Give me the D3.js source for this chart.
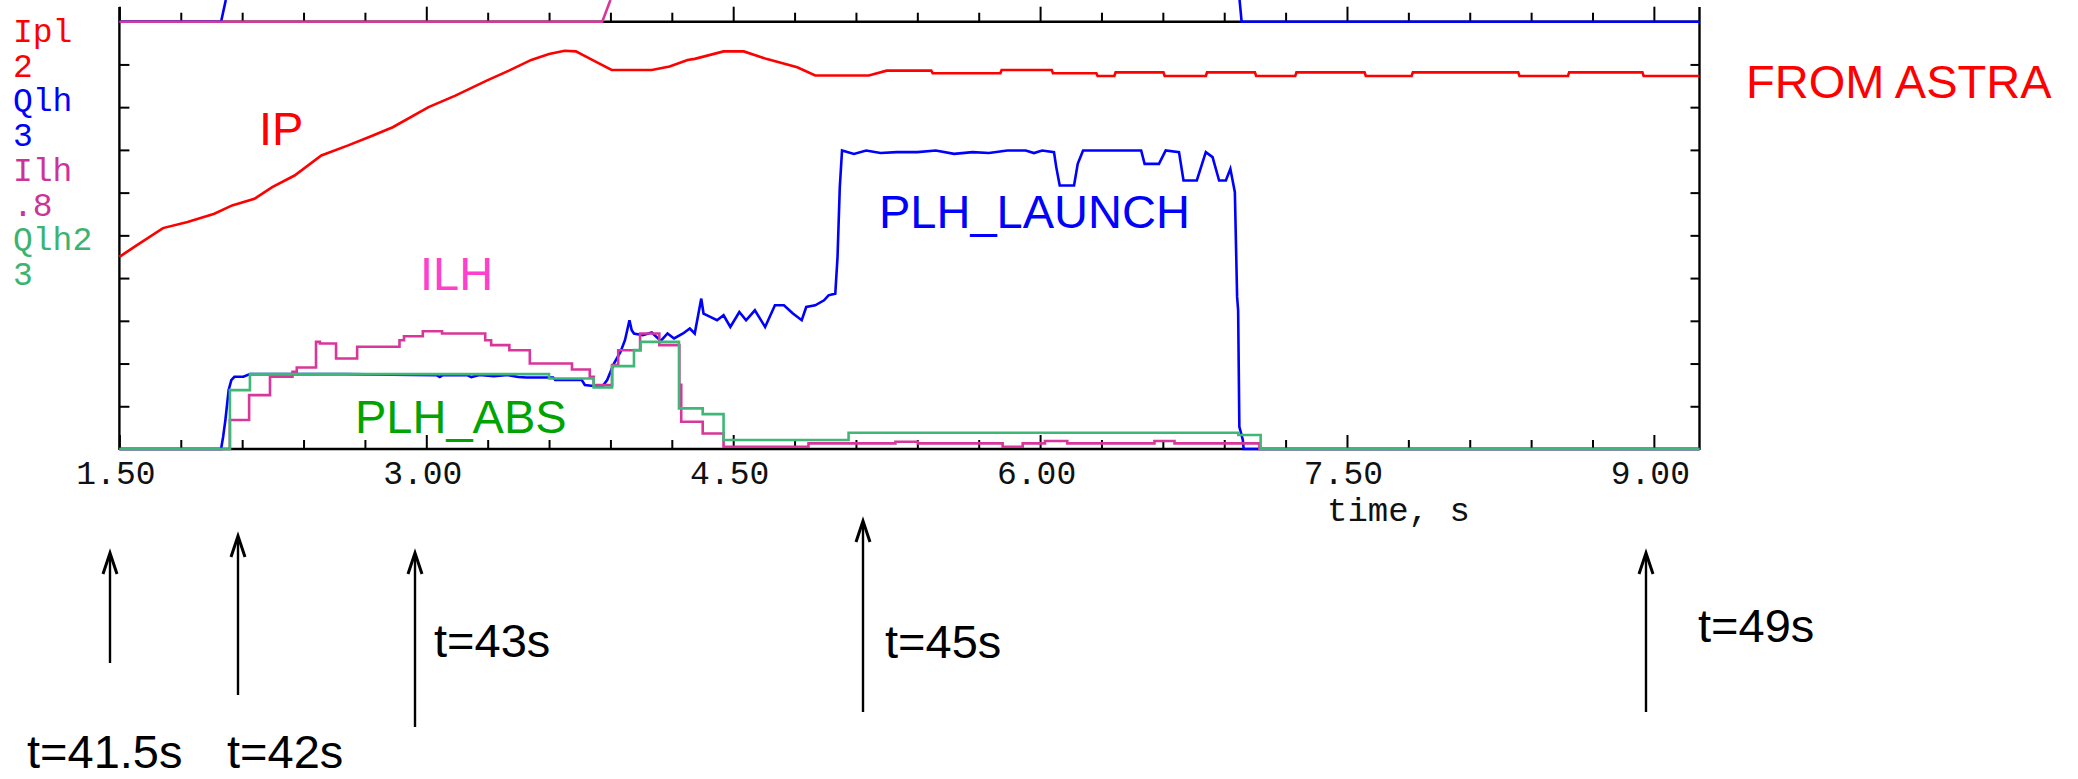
<!DOCTYPE html>
<html>
<head>
<meta charset="utf-8">
<script src="https://cdn.jsdelivr.net/npm/d3@7"></script>
<style>
  html, body { margin: 0; padding: 0; background: #ffffff; }
  svg { display: block; }
</style>
</head>
<body>
<svg id="chart" width="2078" height="779"></svg>
<script>
// ---- Data: [time (s), value] for each trace ----
const seriesNames = ["Ipl", "Qlh", "Ilh", "Qlh2"];
const seriesScaleLabels = ["2", "3", ".8", "3"];
const seriesFullScale = [2, 3, 0.8, 3];

// Plasma current
const iplData = [
  [1.5,0.899],[1.571,0.945],[1.713,1.034],[1.833,1.062],[1.964,1.101],[2.051,1.140],
  [2.160,1.171],[2.247,1.226],[2.356,1.280],[2.487,1.374],[2.618,1.421],[2.727,1.463],
  [2.836,1.506],[3.011,1.600],[3.142,1.654],[3.295,1.724],[3.404,1.771],[3.513,1.821],
  [3.600,1.849],[3.676,1.864],[3.731,1.861],[3.818,1.818],[3.906,1.774],[4.102,1.774],
  [4.189,1.790],[4.277,1.821],[4.312,1.826],[4.453,1.861],[4.552,1.861],[4.661,1.826],
  [4.813,1.787],[4.901,1.748],[5.163,1.748],[5.250,1.771],[5.468,1.771],[5.475,1.759],
  [5.806,1.759],[5.812,1.774],[6.057,1.774],[6.063,1.759],[6.275,1.759],[6.281,1.746],
  [6.363,1.746],[6.369,1.763],[6.603,1.763],[6.609,1.746],[6.810,1.746],[6.816,1.763],
  [7.050,1.763],[7.056,1.746],[7.247,1.746],[7.253,1.763],[7.586,1.763],[7.592,1.746],
  [7.816,1.746],[7.822,1.763],[8.337,1.763],[8.343,1.746],[8.580,1.746],[8.586,1.763],
  [8.944,1.763],[8.950,1.746],[9.223,1.746]
];

// LH launched power
const qlhData = [
  [1.5,0],[1.997,0],[2.007,0.086],[2.018,0.203],[2.034,0.414],[2.047,0.484],[2.062,0.507],
  [2.106,0.507],[2.138,0.526],[2.600,0.526],[3.050,0.519],[3.066,0.505],[3.080,0.519],
  [3.200,0.519],[3.220,0.505],[3.260,0.519],[3.330,0.512],[3.400,0.519],[3.450,0.505],
  [3.490,0.502],[3.620,0.502],[3.630,0.484],[3.760,0.484],[3.775,0.449],[3.818,0.442],
  [3.862,0.442],[3.884,0.484],[3.917,0.600],[3.949,0.682],[3.971,0.764],[3.993,0.904],
  [4.004,0.834],[4.015,0.811],[4.058,0.799],[4.102,0.818],[4.146,0.759],[4.179,0.811],
  [4.211,0.776],[4.255,0.811],[4.288,0.846],[4.312,0.811],[4.344,1.056],[4.355,0.951],
  [4.388,0.927],[4.421,0.904],[4.453,0.939],[4.486,0.857],[4.530,0.962],[4.563,0.904],
  [4.606,0.974],[4.656,0.857],[4.704,1.009],[4.748,1.009],[4.792,0.951],[4.835,0.904],
  [4.857,0.997],[4.901,1.009],[4.944,1.044],[4.966,1.079],[4.999,1.091],[5.010,1.348],
  [5.021,1.838],[5.032,2.096],[5.090,2.072],[5.150,2.096],[5.220,2.078],[5.300,2.084],
  [5.400,2.084],[5.490,2.096],[5.580,2.072],[5.670,2.084],[5.750,2.078],[5.840,2.096],
  [5.930,2.096],[5.970,2.078],[6.010,2.096],[6.068,2.084],[6.079,1.979],[6.096,1.850],
  [6.166,1.850],[6.184,2.002],[6.210,2.096],[6.494,2.096],[6.511,2.002],[6.581,2.002],
  [6.614,2.096],[6.679,2.084],[6.701,1.885],[6.766,1.885],[6.810,2.084],[6.843,2.049],
  [6.875,1.885],[6.908,1.885],[6.930,1.967],[6.941,1.885],[6.952,1.803],[6.963,1.068],
  [6.968,0.974],[6.974,0.156],[6.991,0.063],[6.995,0],[9.223,0]
];

// LH current (held until the next sample)
const ilhData = [
  [1.5,0],[2.040,0.0542],[2.134,0.1009],[2.236,0.1352],[2.346,0.1445],[2.367,0.1526],
  [2.461,0.2006],[2.480,0.1975],[2.559,0.1695],[2.662,0.1913],[2.869,0.2037],[2.891,0.2112],
  [2.983,0.2205],[3.077,0.2162],[3.288,0.2037],[3.317,0.1944],[3.406,0.1850],[3.506,0.1601],
  [3.712,0.1489],[3.799,0.1352],[3.818,0.1196],[3.908,0.1570],[3.938,0.1850],[4.045,0.2162],
  [4.139,0.1944],[4.237,0.1200],[4.246,0.0510],[4.351,0.0290],[4.453,0.0043],[4.868,0.0106],
  [5.293,0.0137],[5.403,0.0106],[5.817,0.0043],[5.915,0.0106],[6.024,0.0150],[6.133,0.0106],
  [6.559,0.0150],[6.657,0.0106],[7.072,0],[9.223,0]
];

// LH absorbed power (held until the next sample)
const qlh2Data = [
  [1.5,0],[2.040,0.4135],[2.138,0.5257],[3.600,0.4953],[3.818,0.4322],[3.908,0.5817],
  [4.015,0.6939],[4.048,0.7523],[4.235,0.285],[4.351,0.245],[4.453,0.063],[5.064,0.114],
  [6.969,0.098],[7.078,0],[9.223,0]
];

// Floor of the panel above, seen along the top edge (1 = off the top)
const upperQlhA = [[1.5,0],[1.997,0],[2.02,1]];
const upperQlhB = [[6.975,1],[6.985,0],[9.223,0]];
const upperIlh = [[1.5,0],[3.86,0],[3.90,1]];

// Axis ticks
const xMajorTicks = [1.5, 3.0, 4.5, 6.0, 7.5, 9.0];
const xMinorTicks = [1.8, 2.1, 2.4, 2.7, 3.3, 3.6, 3.9, 4.2, 4.8, 5.1, 5.4, 5.7,
                     6.3, 6.6, 6.9, 7.2, 7.8, 8.1, 8.4, 8.7];
const yDivisionTicks = [1, 2, 3, 4, 5, 6, 7, 8, 9];
const xDomain = [1.5, 9.223];
const xAxisTitle = "time, s";

// Annotations
const curveNotes = ["IP", "ILH", "PLH_ABS", "PLH_LAUNCH", "FROM ASTRA"];
const timeNotes = ["t=41.5s", "t=42s", "t=43s", "t=45s", "t=49s"];

// ---- Layout ----
const plot = { left: 119.4, right: 1699.5, top: 21.7, bottom: 449, frameTop: 7 };
const colors = {
  Ipl: "#ff0000", Qlh: "#0000ff", Ilh: "#d8369a", Qlh2: "#3fb877",
  IlhLabel: "#cc3399", Qlh2Label: "#3cb371", ilhNote: "#ff40cc", absNote: "#00a400"
};
const monoFont = "'Liberation Mono', 'DejaVu Sans Mono', monospace";
const sansFont = "'Liberation Sans', Arial, sans-serif";

const svg = d3.select("#chart");
svg.append("rect").attr("width", 2078).attr("height", 779).attr("fill", "#ffffff");

const x = d3.scaleLinear().domain(xDomain).range([plot.left, plot.right]);
const yDiv = d3.scaleLinear().domain([0, 10]).range([plot.bottom, plot.top]);
const yTop = d3.scaleLinear().domain([0, 1]).range([plot.top, 0]);
const yScales = {};
seriesNames.forEach((n, i) => {
  yScales[n] = d3.scaleLinear().domain([0, seriesFullScale[i]]).range([plot.bottom, plot.top]);
});

// ---- Axes ----
function styleAxis(g) {
  g.selectAll("path.domain").remove();
  g.selectAll(".tick line").attr("stroke", "#000").attr("stroke-width", 2);
  g.selectAll(".tick text").attr("fill", "#111").attr("font-family", monoFont).attr("font-size", 33);
}

// bottom: minor and major ticks pointing up into the plot
svg.append("g").attr("transform", `translate(0,${plot.bottom})`)
  .call(d3.axisBottom(x).tickValues(xMinorTicks).tickSizeInner(-9).tickSizeOuter(0).tickFormat(""))
  .call(styleAxis);
svg.append("g").attr("transform", `translate(0,${plot.bottom})`)
  .call(d3.axisBottom(x).tickValues(xMajorTicks).tickSizeInner(-14).tickSizeOuter(0)
        .tickPadding(12).tickFormat(d3.format(".2f")))
  .call(styleAxis)
  .call(g => g.selectAll(".tick text").attr("dx", -4));

// top: ticks pointing up
svg.append("g").attr("transform", `translate(0,${plot.top})`)
  .call(d3.axisTop(x).tickValues(xMinorTicks).tickSizeInner(9).tickSizeOuter(0).tickFormat(""))
  .call(styleAxis);
svg.append("g").attr("transform", `translate(0,${plot.top})`)
  .call(d3.axisTop(x).tickValues(xMajorTicks).tickSizeInner(15).tickSizeOuter(0).tickFormat(""))
  .call(styleAxis);

// left and right: division ticks pointing inward
svg.append("g").attr("transform", `translate(${plot.left},0)`)
  .call(d3.axisLeft(yDiv).tickValues(yDivisionTicks).tickSizeInner(-10).tickSizeOuter(0).tickFormat(""))
  .call(styleAxis);
svg.append("g").attr("transform", `translate(${plot.right},0)`)
  .call(d3.axisRight(yDiv).tickValues(yDivisionTicks).tickSizeInner(-9).tickSizeOuter(0).tickFormat(""))
  .call(styleAxis);

// frame lines
const frame = svg.append("g").attr("stroke", "#000").attr("stroke-width", 2.4).attr("fill", "none");
frame.append("line").attr("x1", plot.left).attr("x2", plot.left).attr("y1", plot.frameTop).attr("y2", plot.bottom + 1);
frame.append("line").attr("x1", plot.right).attr("x2", plot.right).attr("y1", plot.frameTop).attr("y2", plot.bottom + 1);
frame.append("line").attr("x1", plot.left).attr("x2", plot.right).attr("y1", plot.top).attr("y2", plot.top);
frame.append("line").attr("x1", plot.left).attr("x2", plot.right).attr("y1", plot.bottom).attr("y2", plot.bottom);

svg.append("text").attr("x", 1327).attr("y", 521)
  .attr("font-family", monoFont).attr("font-size", 34).attr("fill", "#111")
  .text(xAxisTitle);

// ---- Series scale labels on the left ----
const leftLabelColors = [colors.Ipl, colors.Qlh, colors.IlhLabel, colors.Qlh2Label];
const leftLabels = svg.append("g").attr("font-family", monoFont).attr("font-size", 33);
seriesNames.forEach((n, i) => {
  leftLabels.append("text").attr("x", 13).attr("y", 42 + i * 69.3)
    .attr("fill", leftLabelColors[i]).text(n);
  leftLabels.append("text").attr("x", 13).attr("y", 77 + i * 69.3)
    .attr("fill", leftLabelColors[i]).text(seriesScaleLabels[i]);
});

// ---- Traces ----
const traces = svg.append("g").attr("fill", "none").attr("stroke-width", 2.6)
  .attr("stroke-linejoin", "miter");

function drawTrace(data, yScale, color, curve) {
  const line = d3.line().x(d => x(d[0])).y(d => yScale(d[1])).curve(curve);
  traces.append("path").datum(data).attr("d", line).attr("stroke", color);
}

drawTrace(upperQlhA, yTop, colors.Qlh, d3.curveLinear);
drawTrace(upperQlhB, yTop, colors.Qlh, d3.curveLinear);
drawTrace(upperIlh, yTop, colors.Ilh, d3.curveLinear);

drawTrace(iplData, yScales.Ipl, colors.Ipl, d3.curveLinear);
drawTrace(qlhData, yScales.Qlh, colors.Qlh, d3.curveLinear);
drawTrace(ilhData, yScales.Ilh, colors.Ilh, d3.curveStepAfter);
drawTrace(qlh2Data, yScales.Qlh2, colors.Qlh2, d3.curveStepAfter);

// ---- Curve annotations ----
const notePos = [
  { x: 259, y: 145, color: colors.Ipl },
  { x: 420, y: 290, color: colors.ilhNote },
  { x: 355, y: 433, color: colors.absNote },
  { x: 879, y: 228, color: colors.Qlh },
  { x: 1746, y: 98, color: colors.Ipl }
];
const notes = svg.append("g").attr("font-family", sansFont).attr("font-size", 47);
curveNotes.forEach((t, i) => {
  notes.append("text").attr("x", notePos[i].x).attr("y", notePos[i].y)
    .attr("fill", notePos[i].color).text(t);
});

// ---- Time markers below the plot ----
const arrowPos = [
  { x: 110, y1: 553, y2: 663, tx: 27, ty: 768 },
  { x: 238, y1: 536, y2: 695, tx: 227, ty: 768 },
  { x: 415, y1: 553, y2: 727, tx: 434, ty: 657 },
  { x: 863, y1: 521, y2: 712, tx: 885, ty: 658 },
  { x: 1646, y1: 553, y2: 712, tx: 1698, ty: 642 }
];
const markers = svg.append("g");
arrowPos.forEach((a, i) => {
  markers.append("line").attr("x1", a.x).attr("x2", a.x).attr("y1", a.y1 + 1).attr("y2", a.y2)
    .attr("stroke", "#000").attr("stroke-width", 2.4);
  markers.append("path")
    .attr("d", `M${a.x - 7},${a.y1 + 21} L${a.x},${a.y1} L${a.x + 7},${a.y1 + 21}`)
    .attr("fill", "none").attr("stroke", "#000").attr("stroke-width", 3);
  markers.append("text").attr("x", a.tx).attr("y", a.ty)
    .attr("font-family", sansFont).attr("font-size", 47).attr("fill", "#000")
    .text(timeNotes[i]);
});
</script>
</body>
</html>
